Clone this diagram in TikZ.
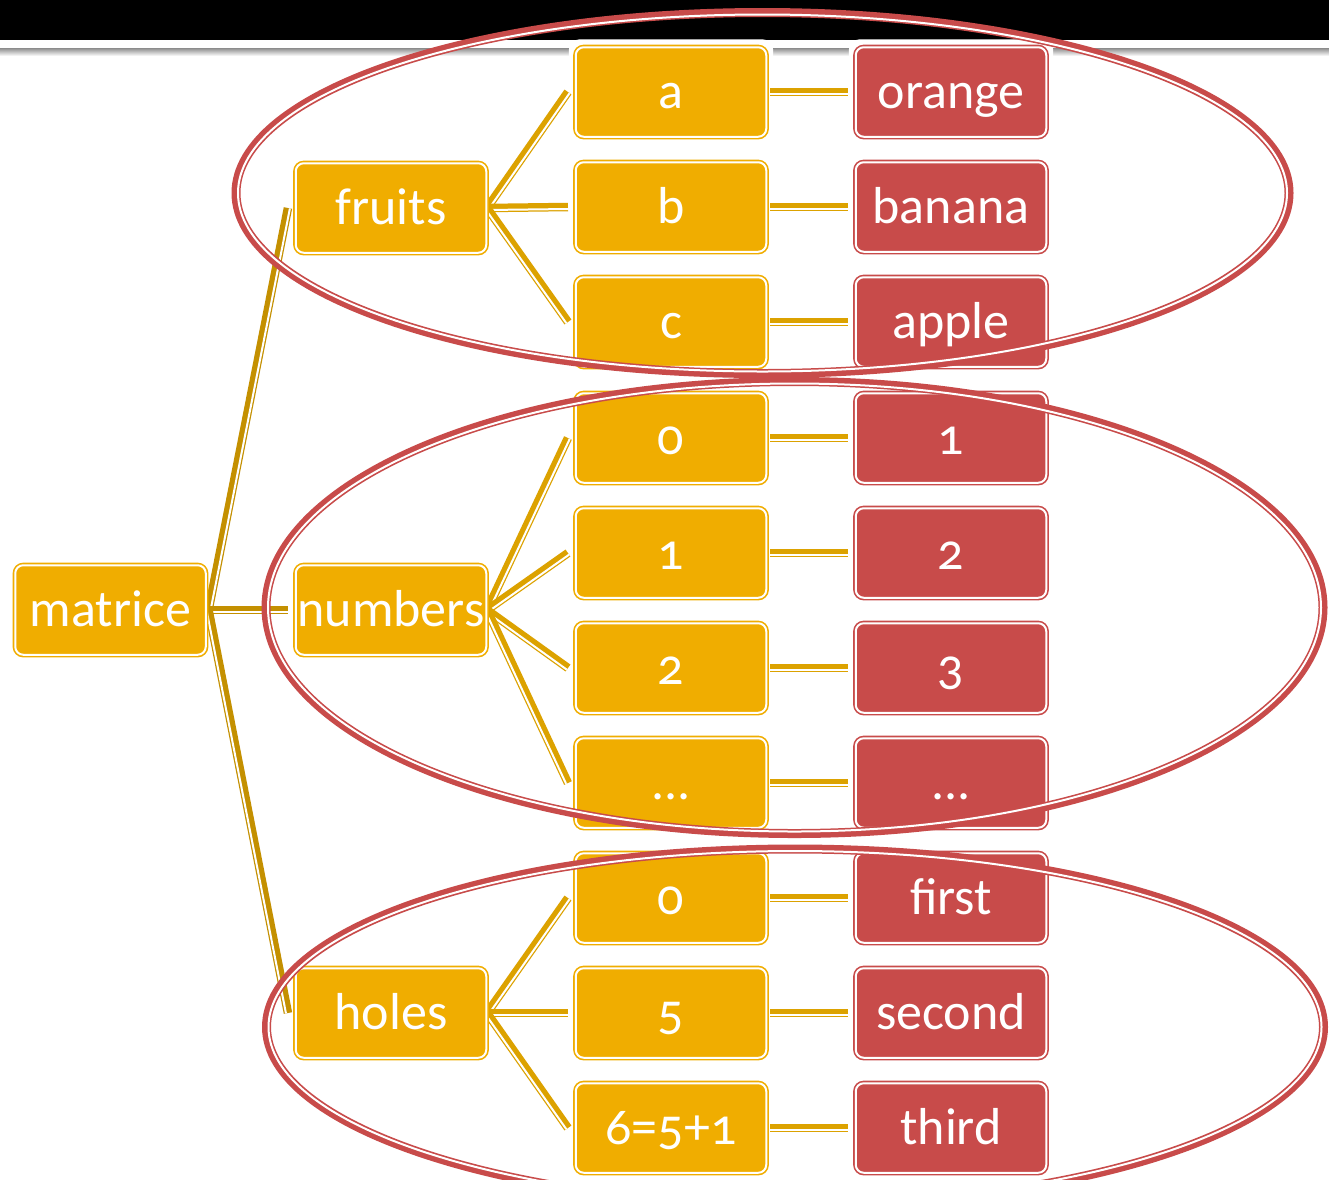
\documentclass[tikz,border=0pt]{standalone}
\usepackage{fontspec}
\setmainfont{Carlito}[Numbers=OldStyle]
\usetikzlibrary{calc}
\definecolor{org}{HTML}{F0AD00}
\definecolor{rd}{HTML}{C84B4A}
\definecolor{gld}{HTML}{DCA200}
\definecolor{gldd}{HTML}{C49000}
\pgfdeclarelayer{bg}
\pgfsetlayers{bg,main}
\tikzset{
  box/.style={rounded corners=8pt, line width=1.6pt, double=white, double distance=2pt,
    minimum width=190.5pt, minimum height=89.5pt, inner sep=0pt, text=white,
    font=\fontsize{52}{60}\selectfont, text height=36pt, text depth=4pt, anchor=center},
  obox/.style={box, fill=org, draw=org},
  rbox/.style={box, fill=rd, draw=rd},
  halo/.style={fill=white, rounded corners=10pt},
}
\newcommand\dconn[3]{%
  \draw[line width=8.5pt, #1] (#2) -- (#3);
  \draw[line width=2pt, white] ($(#2)!2pt!-90:(#3)$) -- ($(#3)!2pt!90:(#2)$);}
\newcommand\dring[4]{% cx, cy, rx, ry
  \draw[line width=9pt, rd] (#1,#2) ellipse [x radius=#3pt, y radius=#4pt];
  \draw[line width=2pt, white] (#1,#2) ellipse [x radius=#3pt-2pt, y radius=#4pt-2pt];}
\begin{document}
\begin{tikzpicture}[x=1pt, y=-1pt]
\useasboundingbox (0,0) rectangle (1329,1179);

% nodes
\node[obox] (m) at (110.5,610) {matrice};
\node[obox] (fr) at (391,208) {fruits};
\node[obox] (nu) at (391,610) {numbers};
\node[obox] (ho) at (391,1013) {holes};

\node[obox] (a) at (671,92) {a};
\node[obox] (b) at (671,207) {b};
\node[obox] (c) at (671,322) {c};
\node[obox] (n0) at (671,438) {0};
\node[obox] (n1) at (671,553) {1};
\node[obox] (n2) at (671,668) {2};
\node[obox] (n3) at (671,783) {...};
\node[obox] (h0) at (671,898) {0};
\node[obox] (h5) at (671,1013) {5};
\node[obox] (h6) at (671,1128) {6=5+1};

\node[rbox] (ra) at (951,92) {orange};
\node[rbox] (rb) at (951,207) {banana};
\node[rbox] (rc) at (951,322) {apple};
\node[rbox] (r0) at (951,438) {1};
\node[rbox] (r1) at (951,553) {2};
\node[rbox] (r2) at (951,668) {3};
\node[rbox] (r3) at (951,783) {...};
\node[rbox] (s0) at (951,898) {first};
\node[rbox] (s5) at (951,1013) {second};
\node[rbox] (s6) at (951,1128) {third};

% background: title bar, shadow, halos, connectors
\begin{pgfonlayer}{bg}
  \fill[white] (0,0) rectangle (1329,1179);
  \fill[black] (0,0) rectangle (1329,40);
  \shade[top color=gray!90, bottom color=white] (0,48) rectangle (1329,56);
  \fill[halo] ([shift={(-6pt,7pt)}]a.north west) rectangle ([shift={(6pt,-6pt)}]a.south east);
  \fill[halo] ([shift={(-6pt,7pt)}]ra.north west) rectangle ([shift={(6pt,-6pt)}]ra.south east);
  \coordinate (mo) at ([xshift=2pt]m.east);
  \dconn{gldd}{mo}{[xshift=-7pt]fr.west}
  \dconn{gldd}{mo}{[xshift=-7pt]nu.west}
  \dconn{gldd}{mo}{[xshift=-7pt]ho.west}
  \foreach \p/\k in {fr/a, fr/b, fr/c, nu/n0, nu/n1, nu/n2, nu/n3, ho/h0, ho/h5, ho/h6}{
    \dconn{gld}{\p.east}{[xshift=-7pt]\k.west}
  }
  \foreach \k/\r in {a/ra, b/rb, c/rc, n0/r0, n1/r1, n2/r2, n3/r3, h0/s0, h5/s5, h6/s6}{
    \dconn{gld}{[xshift=3pt]\k.east}{[xshift=-7pt]\r.west}
  }
\end{pgfonlayer}

% group rings
\dring{762.5}{193}{526.5}{180.5}
\dring{794.5}{607.5}{528.5}{226}
\dring{795}{1027}{528.5}{178}
\end{tikzpicture}
\end{document}
